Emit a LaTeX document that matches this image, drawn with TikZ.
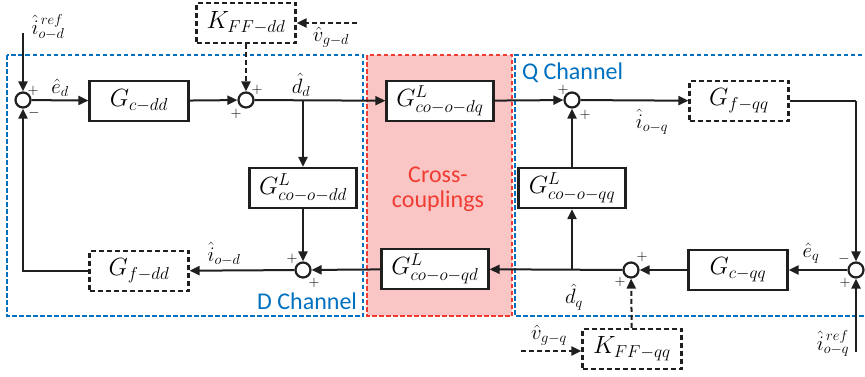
\documentclass[tikz,border=0pt]{standalone}
\usepackage{fontspec}
\newfontfamily\calib{Carlito}
\usetikzlibrary{arrows.meta}
\definecolor{qblue}{RGB}{0,112,192}
\definecolor{cred}{RGB}{240,60,50}
\definecolor{cpink}{RGB}{249,197,197}
\begin{document}
\begin{tikzpicture}[x=1pt,y=-1pt,
  line width=2pt, draw=black!88,
  blk/.style={draw=black!88, line width=2.2pt, minimum width=99pt, minimum height=40pt, inner sep=0pt, font=\fontsize{23}{24}\selectfont},
  cblk/.style={blk, minimum width=107pt, fill=white},
  dblk/.style={blk, dash pattern=on 5pt off 3pt},
  sumn/.style={circle, draw=black!88, line width=2.2pt, minimum size=15pt, inner sep=0pt},
  arr/.style={-{Triangle[length=10pt,width=9pt]}},
  darr/.style={arr, dash pattern=on 5pt off 3pt},
  lbl/.style={font=\fontsize{22}{22}\selectfont, inner sep=0pt},
  pm/.style={font=\fontsize{15}{15}\selectfont, inner sep=0pt},
  region/.style={line width=1.6pt, dash pattern=on 4.5pt off 2.5pt},
  rtext/.style={font=\calib\fontsize{24}{25}\selectfont, inner sep=0pt},
]
\useasboundingbox (0,0) rectangle (865,376);

% regions
\fill[cpink] (367,55) rectangle (512,316);
\draw[region, cred] (367,55) rectangle (512,316);
\draw[region, qblue] (7,55) rectangle (363,316);
\draw[region, qblue] (869,55) -- (515,55) -- (515,316) -- (869,316);

\node[rtext, text=qblue, anchor=west] (qch) at (521,73) {Q Channel};
\node[rtext, text=qblue, anchor=east] (dch) at (358,301) {D Channel};
\node[rtext, text=cred] (cr1) at (438,175) {Cross-};
\node[rtext, text=cred] (cr2) at (438,201) {couplings};

% blocks
\node[blk] (gcdd) at (139,101) {$G_{c-dd}$};
\node[dblk] (kffdd) at (246,23) {$K_{FF-dd}$};
\node[cblk] (gcodq) at (440,101) {$G^{L}_{co-o-dq}$};
\node[dblk] (gfqq) at (739,101) {$G_{f-qq}$};
\node[cblk] (gcoqq) at (572,188) {$G^{L}_{co-o-qq}$};
\node[cblk] (gcodd) at (303,188) {$G^{L}_{co-o-dd}$};
\node[blk] (gcqq) at (738,270) {$G_{c-qq}$};
\node[dblk] (kffqq) at (632,349) {$K_{FF-qq}$};
\node[cblk] (gcoqd) at (435,269) {$G^{L}_{co-o-qd}$};
\node[dblk] (gfdd) at (139,271) {$G_{f-dd}$};

% summing junctions
\node[sumn] (s1) at (23,100) {};
\node[sumn] (s2) at (246,100) {};
\node[sumn] (s3) at (572,100) {};
\node[sumn] (s4) at (856,270) {};
\node[sumn] (s5) at (631,270) {};
\node[sumn] (s6) at (303,270) {};

% free ends and branch points
\coordinate (iodin) at (23,33);
\coordinate (vgdin) at (357,23);
\coordinate (ioqin) at (856,352);
\coordinate (vgqin) at (521,351);
\coordinate (bd) at (303,100);
\coordinate (bq) at (572,270);
\coordinate (cq) at (856,101);

% connectors
\draw[arr] (iodin) -- (s1.north);
\draw[arr] (s1) -- (gcdd);
\draw[arr] (gcdd) -- (s2);
\draw[darr] (kffdd) -- (s2);
\draw[darr] (vgdin) -- (kffdd.east);
\draw[arr] (s2) -- (gcodq);
\draw[arr] (gcodq) -- (s3);
\draw[arr] (s3) -- (gfqq);
\draw (gfqq.east) -- (cq);
\draw[arr] (cq) -- (s4.north);
\draw[arr] (ioqin) -- (s4.south);
\draw[arr] (s4) -- (gcqq);
\draw[arr] (gcqq) -- (s5);
\draw[darr] (kffqq) -- (s5);
\draw[darr] (vgqin) -- (vgqin -| kffqq.west);
\draw[arr] (s5) -- (gcoqd);
\draw[arr] (bq) -- (gcoqq);
\draw[arr] (gcoqq) -- (s3);
\draw[arr] (gcoqd) -- (s6);
\draw[arr] (bd) -- (gcodd);
\draw[arr] (gcodd) -- (s6);
\draw[arr] (s6) -- (gfdd);
\draw[arr] (gfdd.west) -| (s1.south);

% signs
\node[pm] (p1a) at (33,91) {$+$};
\node[pm] (p1b) at (34,113) {$-$};
\node[pm] (p2a) at (257,90) {$+$};
\node[pm] (p2b) at (236,114) {$+$};
\node[pm] (p3a) at (563,90) {$+$};
\node[pm] (p3b) at (585,115) {$+$};
\node[pm] (p5a) at (642,257) {$+$};
\node[pm] (p5b) at (620,282) {$+$};
\node[pm] (p6a) at (292,259) {$+$};
\node[pm] (p6b) at (314,283) {$+$};
\node[pm] (p4a) at (844,259) {$-$};
\node[pm] (p4b) at (845,283) {$+$};

% signal labels
\node[lbl] (liod) at (48,27) {$\hat{i}^{\,ref}_{o-d}$};
\node[lbl] (led) at (60,88) {$\hat{e}_{d}$};
\node[lbl] (ldd) at (301,85) {$\hat{d}_{d}$};
\node[lbl] (lvgd) at (331,37) {$\hat{v}_{g-d}$};
\node[lbl] (lioq) at (652,122) {$\hat{i}_{o-q}$};
\node[lbl] (leq) at (811,253) {$\hat{e}_{q}$};
\node[lbl] (ldq) at (574,297) {$\hat{d}_{q}$};
\node[lbl] (lvgq) at (549,335) {$\hat{v}_{g-q}$};
\node[lbl] (lioqr) at (833,343) {$\hat{i}^{\,ref}_{o-q}$};
\node[lbl] (liodd) at (224,254) {$\hat{i}_{o-d}$};
\end{tikzpicture}
\end{document}
